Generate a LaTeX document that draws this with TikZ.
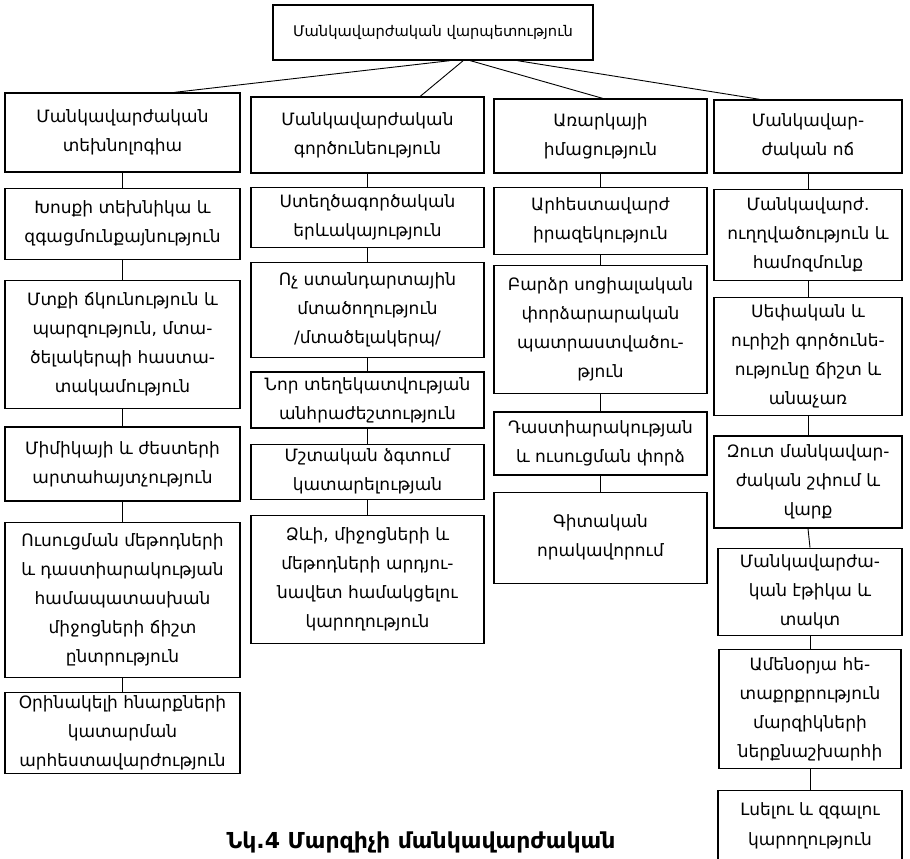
\documentclass[tikz,border=0pt]{standalone}
\usepackage{fontspec}
\setmainfont{DejaVu Sans}
\usepackage{tikz}
\usetikzlibrary{positioning, calc}

\begin{document}
\begin{tikzpicture}[
    x=1pt, y=-1pt,
    box/.style={rectangle, draw, line width=1.3pt, align=center, inner sep=2pt, font=\fontsize{17}{29}\selectfont},
    topbox/.style={box, font=\fontsize{14.7}{20}\selectfont},
    link/.style={line width=0.9pt}
]
    \useasboundingbox (0,0) rectangle (910,859);

    \node [topbox, minimum width=320pt, minimum height=55pt] (mastery) at (433,32.5) {Մանկավարժական վարպետություն};

    % column 1
    \node [box, minimum width=235pt, minimum height=79pt] (tech) at (122.5,132.5) {Մանկավարժական\\տեխնոլոգիա};
    \node [box, minimum width=235pt, minimum height=71pt, below=15pt of tech] (speech) {Խոսքի տեխնիկա և\\զգացմունքայնություն};
    \node [box, minimum width=235pt, minimum height=128pt, below=20pt of speech] (mind) {Մտքի ճկունություն և\\պարզություն, մտա-\\ծելակերպի հաստա-\\տակամություն};
    \node [box, minimum width=235pt, minimum height=74pt, below=17pt of mind] (mimic) {Միմիկայի և ժեստերի\\արտահայտչություն};
    \node [box, minimum width=235pt, minimum height=155pt, below=20pt of mimic] (methods) {Ուսուցման մեթոդների\\և դաստիարակության\\համապատասխան\\միջոցների ճիշտ\\ընտրություն};
    \node [box, minimum width=235pt, minimum height=81pt, below=14pt of methods] (tricks) {Օրինակելի հնարքների\\կատարման\\արհեստավարժություն};

    % column 2
    \node [box, minimum width=233pt, minimum height=76pt] (activity) at (367.5,135) {Մանկավարժական\\գործունեություն};
    \node [box, minimum width=233pt, minimum height=60pt, below=13pt of activity] (creative) {Ստեղծագործական\\երևակայություն};
    \node [box, minimum width=233pt, minimum height=95pt, below=14pt of creative] (nonstd) {Ոչ ստանդարտային\\մտածողություն\\/մտածելակերպ/};
    \node [box, minimum width=233pt, minimum height=56pt, below=13pt of nonstd] (info) {Նոր տեղեկատվության\\անհրաժեշտություն};
    \node [box, minimum width=233pt, minimum height=55pt, below=15pt of info] (strive) {Մշտական ձգտում\\կատարելության};
    \node [box, minimum width=233pt, minimum height=128pt, below=15pt of strive] (forms) {Ձևի, միջոցների և\\մեթոդների արդյու-\\նավետ համակցելու\\կարողություն};

    % column 3
    \node [box, minimum width=213pt, minimum height=74pt] (subject) at (600.5,136) {Առարկայի\\իմացություն};
    \node [box, minimum width=213pt, minimum height=67pt, below=13pt of subject] (prof) {Արհեստավարժ\\իրազեկություն};
    \node [box, minimum width=213pt, minimum height=128pt, below=10pt of prof] (social) {Բարձր սոցիալական\\փորձարարական\\պատրաստվածու-\\թյուն};
    \node [box, minimum width=213pt, minimum height=63pt, below=17pt of social] (exper) {Դաստիարակության\\և ուսուցման փորձ};
    \node [box, minimum width=213pt, minimum height=91pt, below=16pt of exper] (science) {Գիտական\\որակավորում};

    % column 4
    \node [box, minimum width=188pt, minimum height=73pt] (pstyle) at (808,136.5) {Մանկավար-\\ժական ոճ};
    \node [box, minimum width=188pt, minimum height=91pt, below=15pt of pstyle] (orient) {Մանկավարժ.\\ուղղվածություն և\\համոզմունք};
    \node [box, minimum width=188pt, minimum height=118pt, below=16pt of orient] (judge) {Սեփական և\\ուրիշի գործունե-\\ությունը ճիշտ և\\անաչառ};
    \node [box, minimum width=188pt, minimum height=92pt, below=19pt of judge] (contact) {Զուտ մանկավար-\\ժական շփում և\\վարք};
    \node [box, minimum width=184pt, minimum height=87pt, below=19pt of contact, xshift=2pt] (ethics) {Մանկավարժա-\\կան էթիկա և\\տակտ};
    \node [box, minimum width=182pt, minimum height=119pt, below=13pt of ethics] (interest) {Ամենօրյա հե-\\տաքրքրություն\\մարզիկների\\ներքնաշխարհի};
    \node [box, minimum width=184pt, minimum height=70pt, below=21pt of interest] (listen) {Լսելու և զգալու\\կարողություն};

    \node [font=\fontsize{22}{24}\selectfont\bfseries] (caption) at (421,842) {Նկ.4 Մարզիչի մանկավարժական};

    % branches from the top
    \draw [link] ($(mastery.south west)!0.553!(mastery.south east)$) -- ($(tech.north west)!0.72!(tech.north east)$);
    \draw [link] ($(mastery.south west)!0.594!(mastery.south east)$) -- ($(activity.north west)!0.725!(activity.north east)$);
    \draw [link] ($(mastery.south west)!0.616!(mastery.south east)$) -- ($(subject.north west)!0.51!(subject.north east)$);
    \draw [link] ($(mastery.south west)!0.7625!(mastery.south east)$) -- ($(pstyle.north west)!0.245!(pstyle.north east)$);

    % chains
    \foreach \a/\b in {tech/speech, speech/mind, mind/mimic, mimic/methods, methods/tricks,
                       activity/creative, creative/nonstd, nonstd/info, info/strive, strive/forms,
                       subject/prof, prof/social, social/exper, exper/science,
                       pstyle/orient, orient/judge, judge/contact, contact/ethics, ethics/interest, interest/listen}
        \draw [link] (\a.south) -- (\b.north);
\end{tikzpicture}
\end{document}
